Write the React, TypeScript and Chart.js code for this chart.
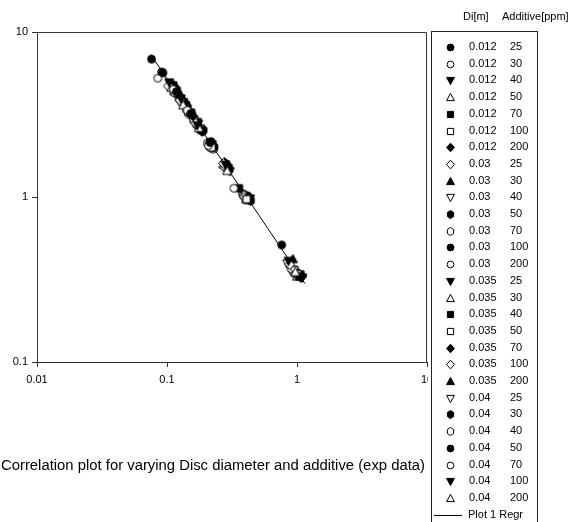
import { useEffect, useRef } from "react";
import { Chart, registerables } from "chart.js";

Chart.register(...registerables);

// Legend groups
const diameters = ["0.012", "0.03", "0.035", "0.04"];
const additives = ["25", "30", "40", "50", "70", "100", "200"];

// Axis decades
const xTickValues = [0.01, 0.1, 1, 10];
const xTickLabels = ["0.01", "0.1", "1", "10"];
const yTickValues = [0.1, 1, 10];
const yTickLabels = ["0.1", "1", "10"];

// Measured points [x, y] per additive level, one block per disc diameter
const disc012: [number, number][][] = [
  [[0.076, 6.85], [0.091, 5.72], [0.118, 4.35], [0.152, 3.2], [0.214, 2.14]],
  [[0.085, 5.25], [0.112, 4.48], [0.143, 3.35], [0.208, 2.05], [0.327, 1.13]],
  [[0.104, 4.95], [0.128, 3.95], [0.171, 2.72], [0.282, 1.57], [0.86, 0.41]],
  [[0.108, 4.6], [0.133, 3.6], [0.176, 2.62], [0.29, 1.44], [0.97, 0.35]],
  [[0.112, 4.75], [0.138, 3.62], [0.183, 2.55], [0.358, 1.13], [1.04, 0.33]],
  [[0.115, 4.3], [0.146, 3.28], [0.22, 2.0], [0.41, 0.97], [1.01, 0.34]],
  [[0.12, 4.3], [0.158, 3.1], [0.225, 2.08], [0.42, 1.0], [1.07, 0.325]],
];
const disc030: [number, number][][] = [
  [[0.102, 4.7], [0.126, 3.85], [0.165, 2.8], [0.272, 1.6], [0.88, 0.39]],
  [[0.107, 4.85], [0.131, 3.9], [0.175, 2.75], [0.295, 1.5], [0.93, 0.42]],
  [[0.11, 4.5], [0.137, 3.5], [0.18, 2.6], [0.4, 1.0], [0.95, 0.36]],
  [[0.114, 4.6], [0.141, 3.55], [0.188, 2.5], [0.218, 2.15], [0.44, 0.95]],
  [[0.117, 4.3], [0.149, 3.25], [0.212, 2.02], [0.39, 1.02], [0.9, 0.37]],
  [[0.122, 4.2], [0.155, 3.2], [0.23, 2.0], [0.3, 1.47], [0.763, 0.512]],
  [[0.125, 3.9], [0.16, 2.95], [0.278, 1.52], [0.385, 1.04], [0.92, 0.36]],
];
const disc035: [number, number][][] = [
  [[0.106, 4.8], [0.134, 3.75], [0.17, 2.85], [0.286, 1.53], [1.1, 0.325]],
  [[0.113, 4.4], [0.147, 3.3], [0.219, 2.04], [0.43, 0.96], [1.0, 0.33]],
  [[0.119, 4.4], [0.153, 3.25], [0.216, 2.15], [0.298, 1.5], [1.06, 0.34]],
  [[0.124, 4.0], [0.161, 2.95], [0.228, 1.98], [0.415, 0.96], [0.98, 0.345]],
  [[0.129, 3.95], [0.167, 2.85], [0.276, 1.62], [0.43, 1.0], [1.09, 0.33]],
  [[0.132, 3.65], [0.172, 2.7], [0.284, 1.5], [0.395, 0.99], [0.89, 0.38]],
  [[0.136, 3.7], [0.178, 2.7], [0.292, 1.55], [0.425, 0.98], [1.03, 0.345]],
];
const disc040: [number, number][][] = [
  [[0.109, 4.55], [0.14, 3.45], [0.185, 2.5], [0.305, 1.43], [0.84, 0.395]],
  [[0.116, 4.55], [0.144, 3.5], [0.19, 2.55], [0.28, 1.6], [0.4, 1.02]],
  [[0.121, 4.15], [0.15, 3.15], [0.205, 2.12], [0.41, 1.01], [0.96, 0.355]],
  [[0.093, 5.65], [0.127, 4.0], [0.163, 2.95], [0.289, 1.53], [0.87, 0.4]],
  [[0.131, 3.75], [0.168, 2.75], [0.226, 1.95], [0.38, 1.05], [0.94, 0.35]],
  [[0.139, 3.6], [0.174, 2.78], [0.222, 2.08], [0.435, 0.98], [1.05, 0.335]],
  [[0.142, 3.45], [0.182, 2.6], [0.27, 1.58], [0.405, 0.97], [0.99, 0.36]],
];

// Power-law regression line end points
const regrX = [0.075, 1.15];
const regrY = [7.29, 0.299];

const legendHeader = ["Di[m]", "Additive[ppm]"];
const regrLabel = "Plot 1 Regr";
const caption = "Correlation plot for varying Disc diameter and additive (exp data)";

type Shape = "circle" | "square" | "diamond" | "up" | "down" | "hex";
const symbolCycle: [Shape, boolean][] = [
  ["circle", true], ["circle", false], ["down", true], ["up", false],
  ["square", true], ["square", false], ["diamond", true], ["diamond", false],
  ["up", true], ["down", false], ["hex", true], ["hex", false],
];

const FONT = "'Liberation Sans', Arial, Helvetica, sans-serif";
const AXIS = "#333";

function makeMarker(shape: Shape, filled: boolean, s: number): HTMLCanvasElement {
  const c = document.createElement("canvas");
  c.width = 13;
  c.height = 13;
  const g = c.getContext("2d")!;
  g.translate(6.5, 6.5);
  g.scale(s, s);
  g.beginPath();
  switch (shape) {
    case "circle":
      g.arc(0, 0, 3.4, 0, Math.PI * 2);
      break;
    case "square":
      g.rect(-3.1, -3.1, 6.2, 6.2);
      break;
    case "diamond":
      g.moveTo(0, -4.3); g.lineTo(4, 0); g.lineTo(0, 4.3); g.lineTo(-4, 0); g.closePath();
      break;
    case "up":
      g.moveTo(0, -4.1); g.lineTo(3.9, 3.1); g.lineTo(-3.9, 3.1); g.closePath();
      break;
    case "down":
      g.moveTo(0, 4.1); g.lineTo(3.9, -3.1); g.lineTo(-3.9, -3.1); g.closePath();
      break;
    case "hex":
      for (let k = 0; k < 6; k++) {
        const a = -Math.PI / 2 + (k * Math.PI) / 3;
        const px = Math.cos(a) * 3.6;
        const py = Math.sin(a) * 4.1;
        if (k === 0) g.moveTo(px, py); else g.lineTo(px, py);
      }
      g.closePath();
      break;
  }
  g.fillStyle = filled ? "#000" : "#fff";
  g.fill();
  g.lineWidth = 1 / s;
  g.strokeStyle = "#000";
  g.stroke();
  return c;
}

function decadeLabel(v: number, values: number[], labels: string[]): string {
  const i = values.findIndex((t) => Math.abs(Math.log10(t) - Math.log10(v)) < 1e-6);
  return i >= 0 ? labels[i] : "";
}

export default function App() {
  const ref = useRef<HTMLCanvasElement | null>(null);

  useEffect(() => {
    document.body.style.margin = "0";
    const canvas = ref.current!;
    const blocks = [disc012, disc030, disc035, disc040];
    const plotMarkers = symbolCycle.map(([s, f]) => makeMarker(s, f, 1.15));
    const keyMarkers = symbolCycle.map(([s, f]) => makeMarker(s, f, 1));

    const datasets: any[] = [];
    const legendRows: { marker: HTMLCanvasElement; di: string; add: string }[] = [];
    blocks.forEach((block, d) => {
      block.forEach((pts, a) => {
        const idx = d * 7 + a;
        legendRows.push({ marker: keyMarkers[idx % symbolCycle.length], di: diameters[d], add: additives[a] });
        datasets.push({
          label: `${diameters[d]} ${additives[a]}`,
          data: pts.map(([x, y]) => ({ x, y })),
          pointStyle: plotMarkers[idx % symbolCycle.length],
          pointRadius: 4,
          showLine: false,
          order: 1,
        });
      });
    });
    datasets.push({
      label: regrLabel,
      data: regrX.map((x, i) => ({ x, y: regrY[i] })),
      showLine: true,
      borderColor: "#000",
      borderWidth: 1,
      pointRadius: 0,
      order: 100,
    });

    const framePlugin = {
      id: "frame",
      beforeDatasetsDraw(chart: any) {
        const { ctx, chartArea: a } = chart;
        ctx.save();
        ctx.strokeStyle = AXIS;
        ctx.lineWidth = 1;
        ctx.beginPath();
        ctx.moveTo(Math.round(a.left) + 0.5, Math.round(a.top) + 0.5);
        ctx.lineTo(Math.round(a.right) - 0.5, Math.round(a.top) + 0.5);
        ctx.lineTo(Math.round(a.right) - 0.5, Math.round(a.bottom));
        ctx.stroke();
        ctx.restore();
      },
    };

    const legendPlugin = {
      id: "sideLegend",
      afterDraw(chart: any) {
        const ctx: CanvasRenderingContext2D = chart.ctx;
        ctx.save();
        ctx.fillStyle = "#fff";
        ctx.fillRect(428, 26, 112, 500);
        ctx.strokeStyle = "#222";
        ctx.lineWidth = 1;
        ctx.strokeRect(431.5, 31.5, 106, 500);

        ctx.fillStyle = "#000";
        ctx.font = `11px ${FONT}`;
        ctx.textBaseline = "middle";
        ctx.textAlign = "left";
        ctx.fillText(legendHeader[0], 463, 17);
        ctx.fillText(legendHeader[1], 502, 17);

        const top = 47;
        const step = 16.7;
        legendRows.forEach((r, i) => {
          const y = top + i * step;
          ctx.drawImage(r.marker, 450.5 - 6.5, Math.round(y) - 6.5 + 0.5);
          ctx.fillText(r.di, 469, y);
          ctx.fillText(r.add, 510, y);
        });
        const ry = top + legendRows.length * step;
        ctx.beginPath();
        ctx.moveTo(434, Math.round(ry) + 0.5);
        ctx.lineTo(462, Math.round(ry) + 0.5);
        ctx.strokeStyle = "#000";
        ctx.stroke();
        ctx.fillText(regrLabel, 468, ry);

        // caption spans the width under the plot
        ctx.font = `14px ${FONT}`;
        const w = ctx.measureText(caption).width;
        const fit = 424 / w;
        ctx.translate(1, 466);
        ctx.scale(fit, 1);
        ctx.fillText(caption, 0, 0);
        ctx.restore();
      },
    };

    const chart = new Chart(canvas, {
      type: "scatter",
      data: { datasets },
      options: {
        animation: false,
        responsive: false,
        devicePixelRatio: 1,
        layout: { padding: { top: 32, right: 149, left: 0, bottom: 0 } },
        plugins: { legend: { display: false }, tooltip: { enabled: false } },
        scales: {
          x: {
            type: "logarithmic",
            min: 0.01,
            max: 10,
            afterBuildTicks: (s: any) => {
              s.ticks = xTickValues.map((v) => ({ value: v }));
            },
            afterFit: (s: any) => {
              s.height = 160;
            },
            ticks: {
              callback: (v: any) => decadeLabel(Number(v), xTickValues, xTickLabels),
              color: "#000",
              font: { family: FONT, size: 11 },
              padding: 6,
              maxRotation: 0,
              autoSkip: false,
            },
            grid: { drawOnChartArea: false, tickLength: 5, color: AXIS },
            border: { color: AXIS },
          },
          y: {
            type: "logarithmic",
            min: 0.1,
            max: 10,
            afterBuildTicks: (s: any) => {
              s.ticks = yTickValues.map((v) => ({ value: v }));
            },
            afterFit: (s: any) => {
              s.width = 37;
            },
            ticks: {
              callback: (v: any) => decadeLabel(Number(v), yTickValues, yTickLabels),
              color: "#000",
              font: { family: FONT, size: 11 },
              padding: 4,
              autoSkip: false,
            },
            grid: { drawOnChartArea: false, tickLength: 5, color: AXIS },
            border: { color: AXIS },
          },
        },
      },
      plugins: [framePlugin, legendPlugin],
    } as any);

    return () => chart.destroy();
  }, []);

  return <canvas ref={ref} width={576} height={522} style={{ display: "block" }} />;
}
